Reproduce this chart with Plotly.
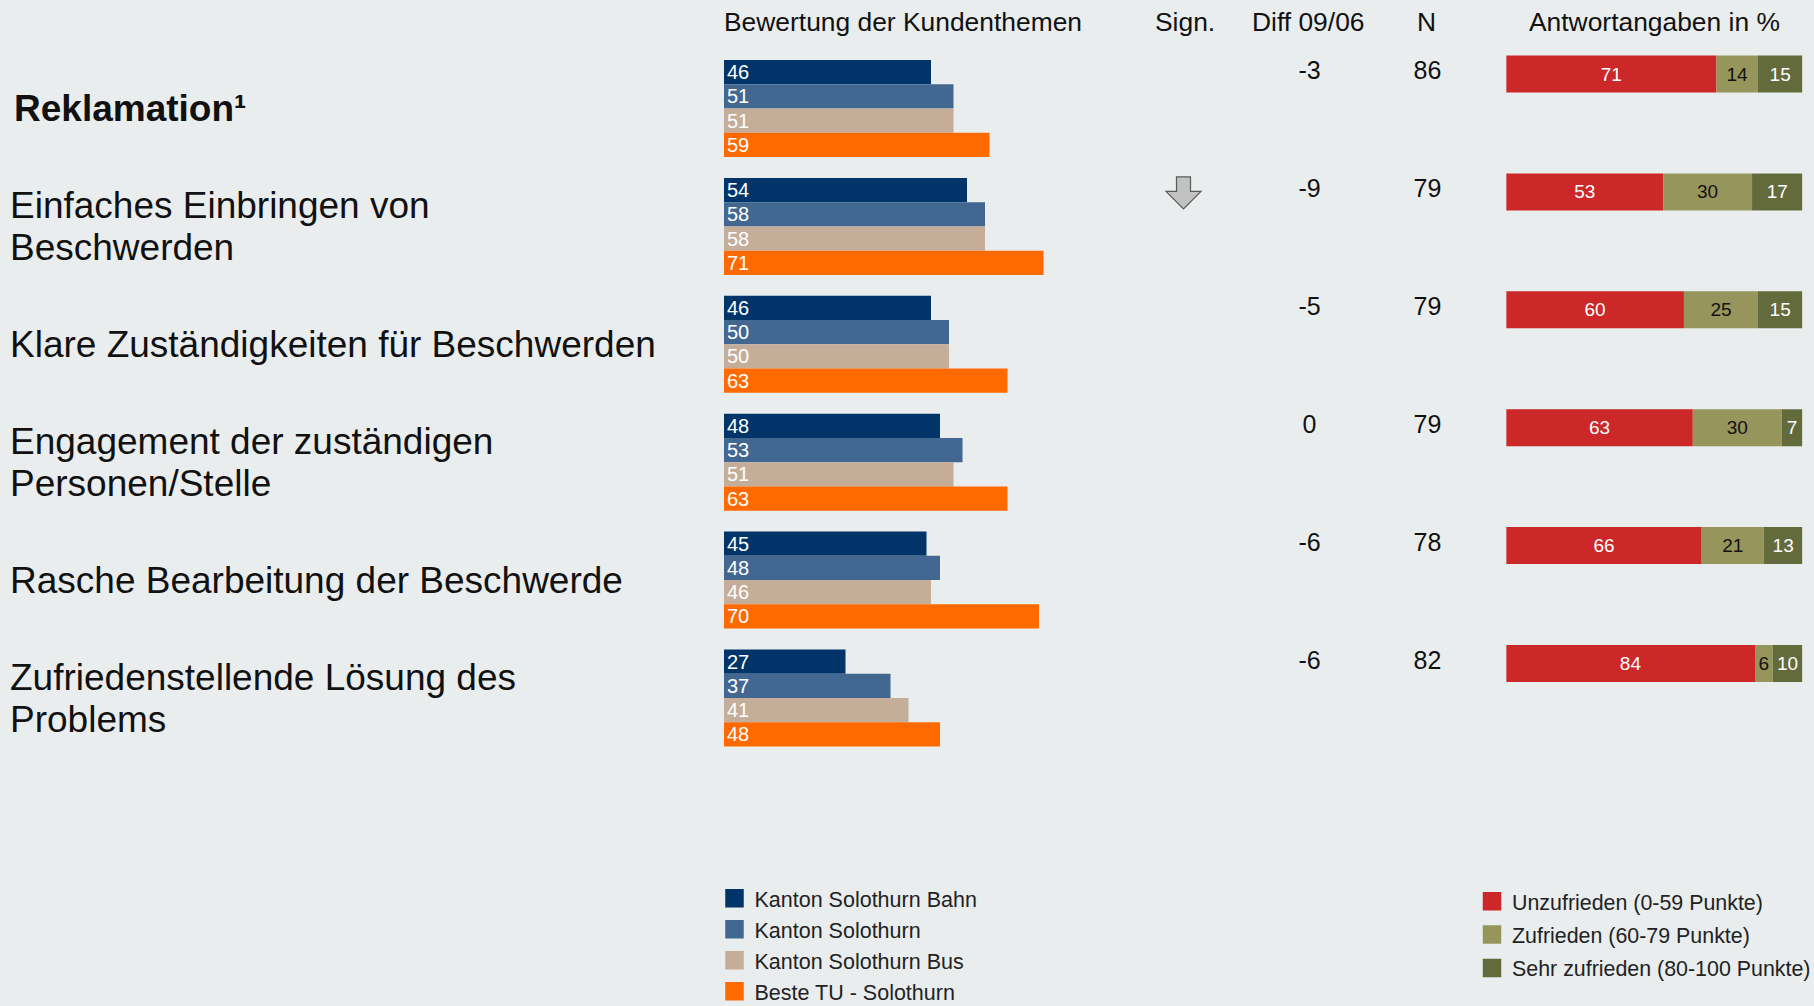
import plotly.graph_objects as go

# ---------------- data ----------------
categories = [
    "Reklamation¹",
    "Einfaches Einbringen von\nBeschwerden",
    "Klare Zuständigkeiten für Beschwerden",
    "Engagement der zuständigen\nPersonen/Stelle",
    "Rasche Bearbeitung der Beschwerde",
    "Zufriedenstellende Lösung des\nProblems",
]
category_bold = [True, False, False, False, False, False]

series_names = ["Kanton Solothurn Bahn", "Kanton Solothurn", "Kanton Solothurn Bus", "Beste TU - Solothurn"]
bahn = [46, 54, 46, 48, 45, 27]
kanton = [51, 58, 50, 53, 48, 37]
bus = [51, 58, 50, 51, 46, 41]
beste_tu = [59, 71, 63, 63, 70, 48]

answer_names = ["Unzufrieden (0-59 Punkte)", "Zufrieden (60-79 Punkte)", "Sehr zufrieden (80-100 Punkte)"]
unzufrieden = [71, 53, 60, 63, 66, 84]
zufrieden = [14, 30, 25, 30, 21, 6]
sehr_zufrieden = [15, 17, 15, 7, 13, 10]

diff_0906 = [-3, -9, -5, 0, -6, -6]
n_values = [86, 79, 79, 79, 78, 82]
significance = ["", "down", "", "", "", ""]

headers = ["Bewertung der Kundenthemen", "Sign.", "Diff 09/06", "N", "Antwortangaben in %"]

# ---------------- styles / layout constants ----------------
W, H = 1814, 1006
BG = "#E9EDEE"
FONT = "Liberation Sans, Arial, Helvetica, sans-serif"
series_colors = ["#01356A", "#426891", "#C4AE9A", "#FF6A00"]
answer_colors = ["#CC2829", "#96955C", "#636A3C"]
answer_text_colors = ["white", "#111111", "white"]

ROW0 = 108.5      # pixel centre of first group
STEP = 117.9      # pixels between groups
u = lambda px: px / STEP   # pixel length -> y units

BAR_PX = 24.25
LABEL_X = 9
BOLD_INDENT = 4
LINE_PX = 42
SIGN_X = 1183.5
DIFF_X = 1309.5
N_X = 1427.5
HEADER_X = [722, 1185, 1308, 1426.5, 1654]
HEADER_ANCHOR = ["left", "center", "center", "center", "center"]

rows = list(range(len(categories)))

fig = go.Figure()

# left grouped bars
for k, (name, vals, col) in enumerate(zip(series_names, [bahn, kanton, bus, beste_tu], series_colors)):
    fig.add_trace(go.Bar(
        y=rows, x=vals, orientation="h", xaxis="x", yaxis="y",
        offset=u(-48.5 + BAR_PX * k), width=u(BAR_PX),
        marker=dict(color=col, line=dict(width=0)),
        text=[str(v) for v in vals], textposition="inside", insidetextanchor="start",
        textangle=0, constraintext="none",
        textfont=dict(family=FONT, size=20, color="white"),
        name=name, showlegend=False, hoverinfo="skip",
    ))

# right stacked bars
bases = [0] * len(rows)
for name, vals, col, tcol in zip(answer_names, [unzufrieden, zufrieden, sehr_zufrieden], answer_colors, answer_text_colors):
    fig.add_trace(go.Bar(
        y=rows, x=vals, base=list(bases), orientation="h", xaxis="x2", yaxis="y",
        offset=u(-53), width=u(37),
        marker=dict(color=col, line=dict(width=0)),
        text=[str(v) for v in vals], textposition="inside", insidetextanchor="middle",
        textangle=0, constraintext="none",
        textfont=dict(family=FONT, size=19, color=tcol),
        name=name, showlegend=False, hoverinfo="skip",
    ))
    bases = [b + v for b, v in zip(bases, vals)]

# table columns (Diff, N)
text_y = [r + u(-35.5) for r in rows]
for col_x, vals in [(DIFF_X, diff_0906), (N_X, n_values)]:
    fig.add_trace(go.Scatter(
        x=[col_x] * len(rows), y=text_y, xaxis="x3", yaxis="y",
        mode="text", text=[str(v) for v in vals], textposition="middle center",
        textfont=dict(family=FONT, size=25, color="#111111"),
        showlegend=False, hoverinfo="skip", cliponaxis=False,
    ))

# legend entries
for name, col in zip(series_names, series_colors):
    fig.add_trace(go.Scatter(
        x=[None], y=[None], xaxis="x3", yaxis="y", mode="markers",
        marker=dict(symbol="square", size=16, color=col, line=dict(color=col, width=2.5)),
        name=name, legend="legend", legendgroup=name, hoverinfo="skip",
    ))
for name, col in zip(answer_names, answer_colors):
    fig.add_trace(go.Scatter(
        x=[None], y=[None], xaxis="x3", yaxis="y", mode="markers",
        marker=dict(symbol="square", size=16, color=col, line=dict(color=col, width=2.5)),
        name=name, legend="legend2", legendgroup=name, hoverinfo="skip",
    ))

# significance arrows
arrow_path = "M -7,16 L 7,16 L 7,1.5 L 17.5,1.5 L 0,-16 L -17.5,1.5 L -7,1.5 Z"
shapes = []
for r, s in zip(rows, significance):
    if s == "down":
        shapes.append(dict(
            type="path", xref="x3", yref="y", xsizemode="pixel", ysizemode="pixel",
            xanchor=SIGN_X, yanchor=r + u(-33.5), path=arrow_path,
            fillcolor="#C2C2C2", line=dict(color="#5A5A5A", width=1.2),
        ))

# annotations: row labels and headers
annotations = []
for r, label, bold in zip(rows, categories, category_bold):
    lines = label.split("\n")
    n = len(lines)
    for j, line in enumerate(lines):
        annotations.append(dict(
            xref="x3", yref="y", x=LABEL_X + (BOLD_INDENT if bold else 0), y=r,
            xanchor="left", yanchor="middle", borderpad=0,
            yshift=((n - 1) / 2 - j) * LINE_PX,
            text=f"<b>{line}</b>" if bold else line, showarrow=False,
            font=dict(family=FONT, size=37, color="#111111"),
        ))
for htxt, hx, ha in zip(headers, HEADER_X, HEADER_ANCHOR):
    annotations.append(dict(
        xref="x3", yref="paper", x=hx, y=1 - 22 / H, xanchor=ha, yanchor="middle",
        text=htxt, showarrow=False, font=dict(family=FONT, size=26.4, color="#111111"),
    ))

fig.update_layout(
    width=W, height=H, autosize=False,
    margin=dict(l=0, r=0, t=0, b=0, pad=0, autoexpand=False),
    paper_bgcolor=BG, plot_bgcolor="rgba(0,0,0,0)",
    barmode="overlay", font=dict(family=FONT, color="#111111"),
    xaxis=dict(domain=[724 / W, (724 + 450) / W], range=[0, 100], visible=False, anchor="y", fixedrange=True),
    xaxis2=dict(domain=[1506.2 / W, 1802.4 / W], range=[0, 100], visible=False, anchor="y", fixedrange=True),
    xaxis3=dict(domain=[0, 1], range=[0, W], visible=False, anchor="y", fixedrange=True),
    yaxis=dict(domain=[0, 1], range=[(H - ROW0) / STEP, -ROW0 / STEP], visible=False, fixedrange=True),
    legend=dict(x=714.5 / W, y=1 - 877.85 / H, xanchor="left", yanchor="top",
                bgcolor="rgba(0,0,0,0)", borderwidth=0, font=dict(family=FONT, size=21.5, color="#222222"),
                tracegroupgap=0, traceorder="grouped", itemclick=False, itemdoubleclick=False),
    legend2=dict(x=1472 / W, y=1 - 880.85 / H, xanchor="left", yanchor="top",
                 bgcolor="rgba(0,0,0,0)", borderwidth=0, font=dict(family=FONT, size=21.4, color="#222222"),
                 tracegroupgap=2.5, traceorder="grouped", itemclick=False, itemdoubleclick=False),
    shapes=shapes, annotations=annotations, showlegend=True,
)

fig.write_html("out.html", include_plotlyjs=True, full_html=True,
               config={"displayModeBar": False},
               post_script="document.body.style.margin='0';document.body.style.overflow='hidden';")
